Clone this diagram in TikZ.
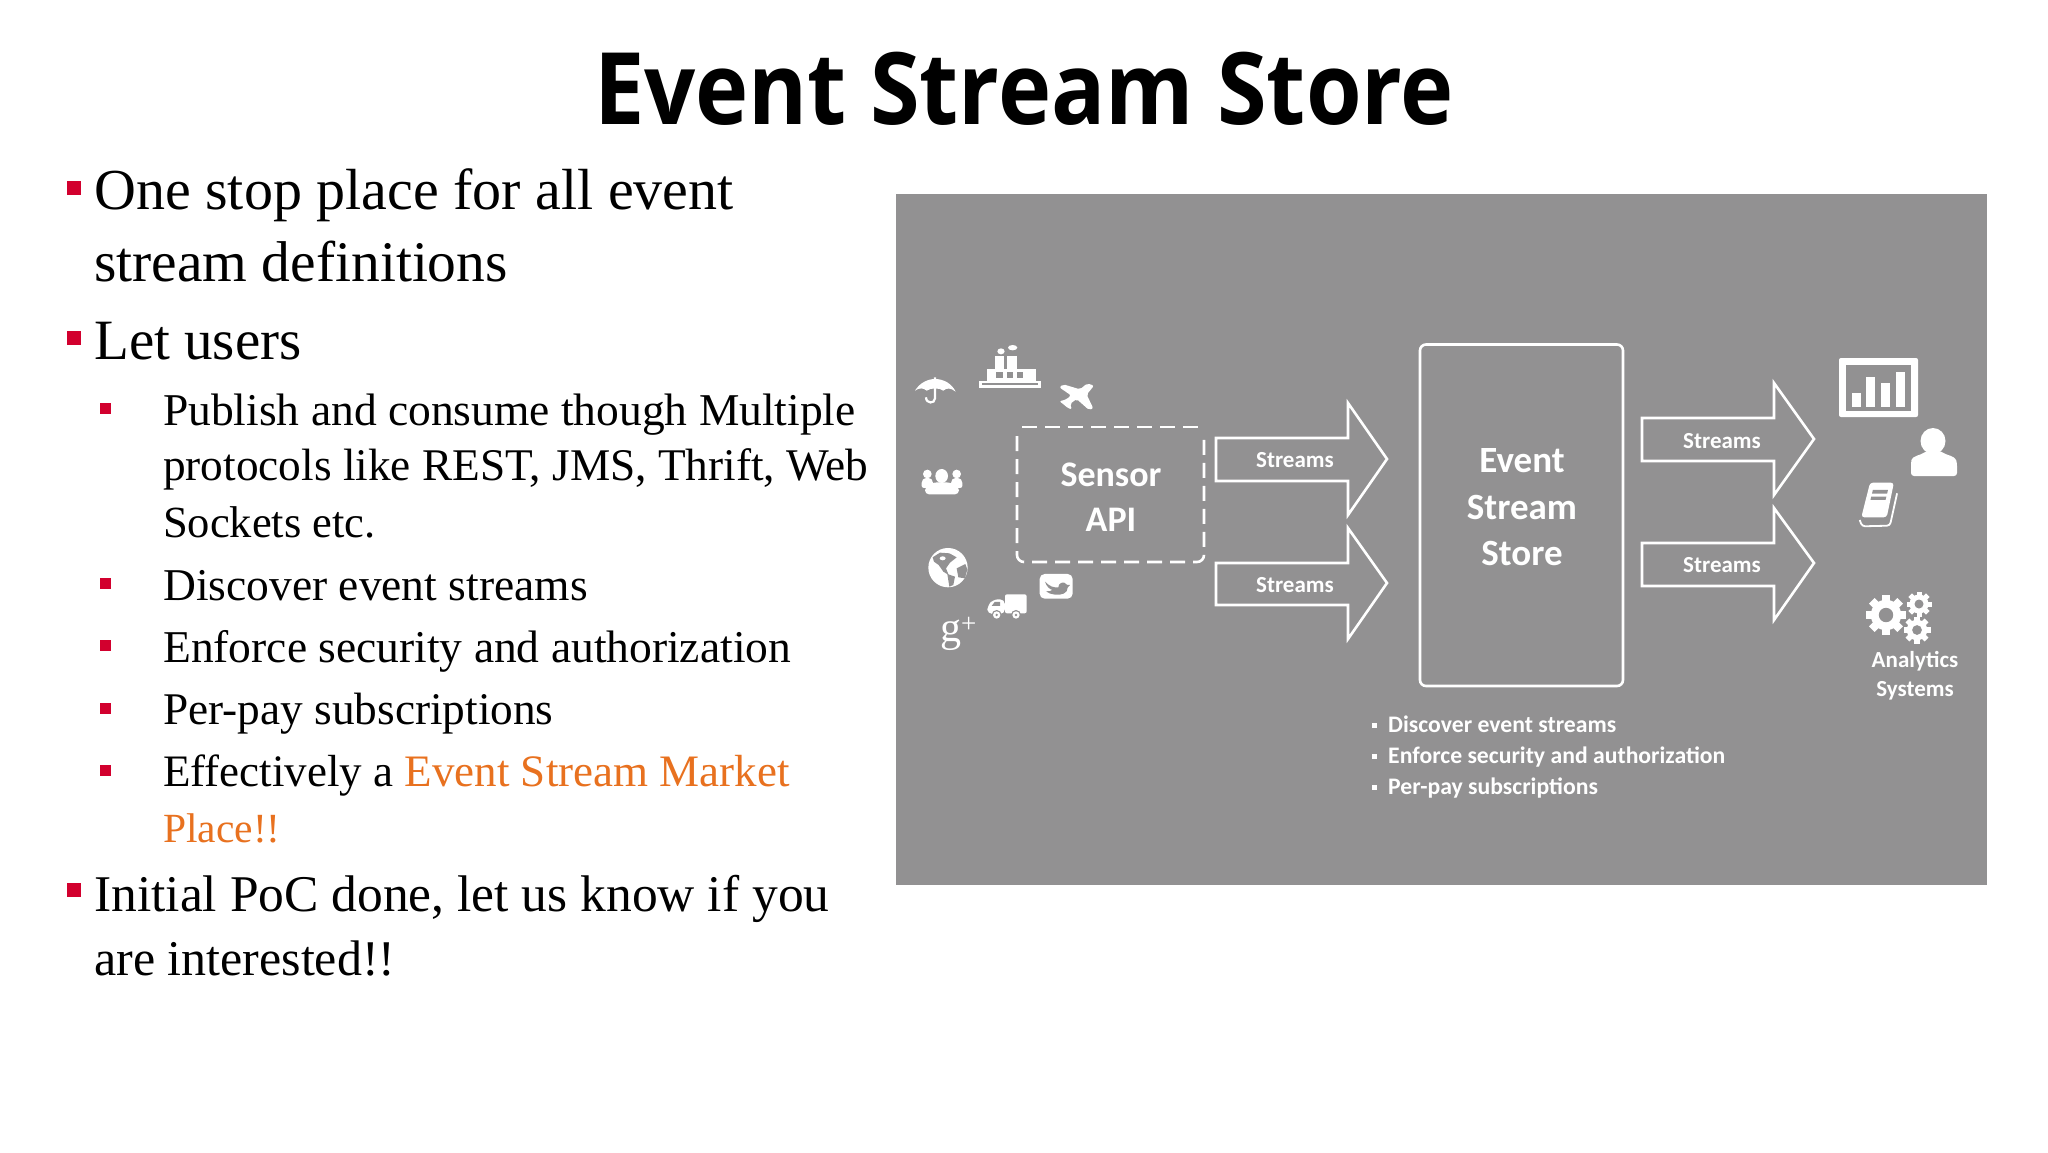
\documentclass[tikz,border=0pt]{standalone}
\usepackage{fontspec}
\setmainfont{Liberation Serif}
\newfontfamily\titlefont[FakeStretch=0.9]{Open Sans}
\newfontfamily\handfont{Carlito}
\definecolor{panelgray}{HTML}{929192}
\definecolor{bulletred}{HTML}{D2002E}
\definecolor{marketorange}{HTML}{E8711F}
\newcommand{\fsz}[1]{\fontsize{#1}{#1}\selectfont}
\tikzset{
  x=1pt,y=-1pt,
  lone/.style={anchor=base west,inner sep=0pt,font=\fsz{#1}},
  ltwo/.style={anchor=base west,inner sep=0pt,font=\fsz{#1}},
  ltwo/.default=45.5,
  bulone/.style={fill=bulletred,draw=none,minimum size=14pt,inner sep=0pt,anchor=north west},
  bultwo/.style={fill=bulletred,draw=none,minimum size=11pt,inner sep=0pt,anchor=north west},
  hand/.style={inner sep=0pt,text=white,font=\handfont\bfseries\fsz{#1}},
  handlist/.style={inner sep=0pt,text=white,anchor=base west,font=\handfont\bfseries\fsz{#1}},
  whiteline/.style={draw=white,line width=2.6pt,line join=miter},
  zoomA/.style={shift={(890pt,-320pt)},x=.3333pt,y=-.3333pt},
  zoomB/.style={shift={(1397pt,-320pt)},x=.3975pt,y=-.3333pt},
  minibul/.style={fill=white,draw=none,minimum size=5pt,inner sep=0pt},
}
\newcommand{\blockarrow}[8]{% tail, head base, tip, shaft top, shaft bottom, head top, head bottom, tip y
  \draw[whiteline] (#1,#4) -- (#2,#4) -- (#2,#6) -- (#3,#8) -- (#2,#7) -- (#2,#5) -- (#1,#5) -- cycle;}
\newcommand{\geario}[3]{% x,y,r
  \begin{scope}[shift={(#1,#2)}]
    \fill[white] (0,0) circle (#3*0.76);
    \foreach \a in {0,45,...,315}{
      \fill[white,rotate=\a] (-#3*0.2,0) rectangle (#3*0.2,#3);
    }
    \fill[panelgray] (0,0) circle (#3*0.36);
  \end{scope}}
\newcommand{\miniperson}[4]{% cx, head y, head r, body half width
  \fill[white] (#1,#2) circle (#3);
  \fill[white,rounded corners=2pt] (#1-#4,#2+#3*3.2) -- (#1-#4,#2+#3*1.6) -- (#1-#3*0.7,#2+#3*0.9) -- (#1+#3*0.7,#2+#3*0.9) -- (#1+#4,#2+#3*1.6) -- (#1+#4,#2+#3*3.2) -- cycle;}
\begin{document}
\begin{tikzpicture}
\useasboundingbox (0,0) rectangle (2048,1152);
\fill[white] (0,0) rectangle (2048,1152);
% title
\node[inner sep=0pt,anchor=base,font=\titlefont\bfseries\fsz{100}] (title) at (1024,124) {Event Stream Store};
% bullets
\node[bulone] (b1) at (67,181) {};
\node[bulone] (b2) at (67,331) {};
\node[bulone] (b3) at (67,883) {};
\node[bultwo] (s1) at (100,403) {};
\node[bultwo] (s2) at (100,578) {};
\node[bultwo] (s3) at (100,640) {};
\node[bultwo] (s4) at (100,703) {};
\node[bultwo] (s5) at (100,765) {};
% text
\node[lone=58] (t1a) at (94,209) {One stop place for all event};
\node[lone=57.5] (t1b) at (94,281) {stream definitions};
\node[lone=57] (t2) at (94,359) {Let users};
\node[ltwo] (t3a) at (163,425) {Publish and consume though Multiple};
\node[ltwo=45.3] (t3b) at (163,480) {protocols like REST, JMS, Thrift, Web};
\node[ltwo=44.5] (t3c) at (163,537) {Sockets etc.};
\node[ltwo] (t4) at (163,600) {Discover event streams};
\node[ltwo] (t5) at (163,662) {Enforce security and authorization};
\node[ltwo=45.3] (t6) at (163,724) {Per-pay subscriptions};
\node[ltwo=45] (t7a) at (163,786) {Effectively a \textcolor{marketorange}{Event Stream Market}};
\node[ltwo=41.5,text=marketorange] (t7b) at (163,842) {Place!!};
\node[lone=51.5] (t8a) at (94,911) {Initial PoC done, let us know if you};
\node[lone=50] (t8b) at (94,975) {are interested!!};
% panel
\fill[panelgray] (896,194) rectangle (1987,885);
% sensor box
\draw[draw=white,line width=2.6pt,dash pattern=on 15pt off 8pt,rounded corners=7pt] (1017,436) -- (1017,562) -- (1204,562) -- (1204,436);
\draw[draw=white,line width=2.6pt,dash pattern=on 15pt off 8pt] (1022,427) -- (1201,427);
\node[hand=36] (sensor) at (1111,475) {Sensor};
\node[hand=36] (api) at (1111,520) {API};
% input arrows
\blockarrow{1216}{1348}{1387}{438}{481}{403}{515}{459}
\blockarrow{1216}{1348}{1387}{563}{605}{528}{639}{583}
\node[hand=23] (st1) at (1295,460) {Streams};
\node[hand=23] (st2) at (1295,585) {Streams};
% store
\draw[draw=white,line width=2.6pt,rounded corners=6pt] (1420,344.5) rectangle (1623,686);
\node[hand=37] (ev) at (1522,461) {Event};
\node[hand=37] (sm) at (1522,507) {Stream};
\node[hand=37] (so) at (1522,553) {Store};
% output arrows
\blockarrow{1642}{1774}{1814}{418}{461}{383}{495}{439}
\blockarrow{1642}{1774}{1814}{543}{586}{508}{620}{563}
\node[hand=23] (st3) at (1722,441) {Streams};
\node[hand=23] (st4) at (1722,565) {Streams};
% list
\node[minibul] (m1) at (1374,725) {};
\node[minibul] (m2) at (1374,756) {};
\node[minibul] (m3) at (1374,787) {};
\node[handlist=23.7] (l1) at (1388,732) {Discover event streams};
\node[handlist=23.7] (l2) at (1388,763) {Enforce security and authorization};
\node[handlist=23.7] (l3) at (1388,794) {Per-pay subscriptions};
% analytics label
\node[hand=23] (an) at (1915,661.5) {Analytics};
\node[hand=23] (sy) at (1915,691) {Systems};
% chart icon
\fill[white,rounded corners=2pt] (1839,358) rectangle (1918,417);
\fill[panelgray] (1846,364.5) rectangle (1911,411);
\fill[white] (1852,393) rectangle (1861,407);
\fill[white] (1866,377) rectangle (1875,407);
\fill[white] (1881,383) rectangle (1890,407);
\fill[white] (1896,372) rectangle (1905,407);
% person icon
\fill[white] (1933,441) ellipse [x radius=12.5,y radius=13];
\fill[white,rounded corners=3pt] (1911,476) -- (1911,463) .. controls (1912,456) and (1921,455) .. (1926,451) -- (1941,451) .. controls (1946,455) and (1955,456) .. (1957,463) -- (1957,476) -- cycle;
% book icon
\begin{scope}[zoomB]
  \fill[white,rounded corners=3pt] (1190,488) -- (1250,488) -- (1232,592) -- (1168,592) -- cycle;
  \fill[panelgray] (1197,510) -- (1235,510) -- (1233,521) -- (1195,521) -- cycle;
  \fill[panelgray] (1193,530) -- (1231,530) -- (1229,540) -- (1191,540) -- cycle;
  \draw[white,line width=1.8pt,rounded corners=3pt] (1258,520) -- (1240,617) -- (1170,619) -- (1164,600);
\end{scope}
% gears
\geario{1886}{615}{20}
\geario{1919}{604}{12.5}
\geario{1917}{630}{13.5}
% left icons
\begin{scope}[zoomA]
  % umbrella
  \fill[white] (75,212) .. controls (90,187) and (115,177) .. (135,177) .. controls (160,177) and (185,190) .. (197,215) .. controls (182,203) and (170,203) .. (160,212) .. controls (150,203) and (122,203) .. (110,212) .. controls (100,203) and (88,203) .. (75,212) -- cycle;
  \draw[white,line width=2.2pt] (135,172) -- (135,235) .. controls (135,252) and (108,252) .. (108,232);
  % ship
  \fill[white] (268,183) rectangle (452,205);
  \fill[panelgray] (275,190) rectangle (445,195);
  \fill[white] (292,147) rectangle (437,183);
  \fill[panelgray] (318,156) rectangle (338,173);
  \fill[panelgray] (350,156) rectangle (370,173);
  \fill[panelgray] (380,156) rectangle (400,173);
  \fill[white] (315,107) rectangle (342,147);
  \fill[white] (350,107) rectangle (380,147);
  \fill[white] (333,94) ellipse [x radius=11,y radius=9];
  \fill[white] (368,83) ellipse [x radius=14,y radius=8];
  % plane
  \fill[white,rounded corners=2pt] (612,197) -- (590,224) -- (610,265) -- (597,270) -- (560,237) -- (540,252) -- (546,268) -- (534,265) -- (520,252) -- (508,244) -- (530,238) -- (543,226) -- (508,202) -- (520,193) -- (570,208) -- (592,190) -- cycle;
  % people
  \miniperson{112}{462}{13}{17}
  \miniperson{200}{462}{13}{17}
  \fill[panelgray] (155,470) ellipse [x radius=27,y radius=27];
  \fill[panelgray] (122,498) rectangle (188,525);
  \fill[white] (155,468) ellipse [x radius=19,y radius=21];
  \fill[white,rounded corners=4pt] (105,523) -- (105,500) -- (130,487) -- (180,487) -- (207,500) -- (207,523) -- cycle;
  % globe
  \fill[white] (174,743) circle (59);
  \fill[panelgray] (150,698) -- (178,700) -- (200,712) -- (180,728) -- (168,745) -- (176,765) -- (160,755) -- (146,735) -- (132,725) -- (128,712) -- cycle;
  \fill[panelgray] (172,762) -- (195,770) -- (190,795) -- (178,800) -- cycle;
  \fill[panelgray] (200,745) -- (226,732) -- (232,748) -- (225,775) -- (205,772) -- cycle;
  \fill[white] (158,715) ellipse [x radius=9,y radius=6];
  % twitter
  \fill[white,rounded corners=5pt] (449,762) rectangle (548,836);
  \fill[panelgray] (465,785) .. controls (480,800) and (490,803) .. (505,802) .. controls (505,790) and (520,780) .. (532,795) -- (540,795) -- (533,803) .. controls (533,820) and (515,826) .. (495,824) .. controls (485,823) and (475,820) .. (468,814) .. controls (478,815) and (482,813) .. (487,810) .. controls (478,807) and (470,800) .. (465,785) -- cycle;
  % truck
  \fill[white,rounded corners=2pt] (345,823) rectangle (410,880);
  \fill[white,rounded corners=5pt] (292,882) -- (292,858) -- (310,838) -- (345,838) -- (345,882) -- cycle;
  \fill[panelgray] (305,858) -- (314,846) -- (330,846) -- (330,858) -- cycle;
  \fill[panelgray] (320,885) circle (15);
  \fill[panelgray] (378,885) circle (15);
  \fill[white] (320,885) circle (11);
  \fill[white] (378,885) circle (11);
  \fill[panelgray] (320,885) circle (4);
  \fill[panelgray] (378,885) circle (4);
\end{scope}
\node[inner sep=0pt,text=white,anchor=base west,font=\fsz{42}] (gplus) at (940,641) {g\raisebox{9pt}{\fsz{27}+}};
\end{tikzpicture}
\end{document}
